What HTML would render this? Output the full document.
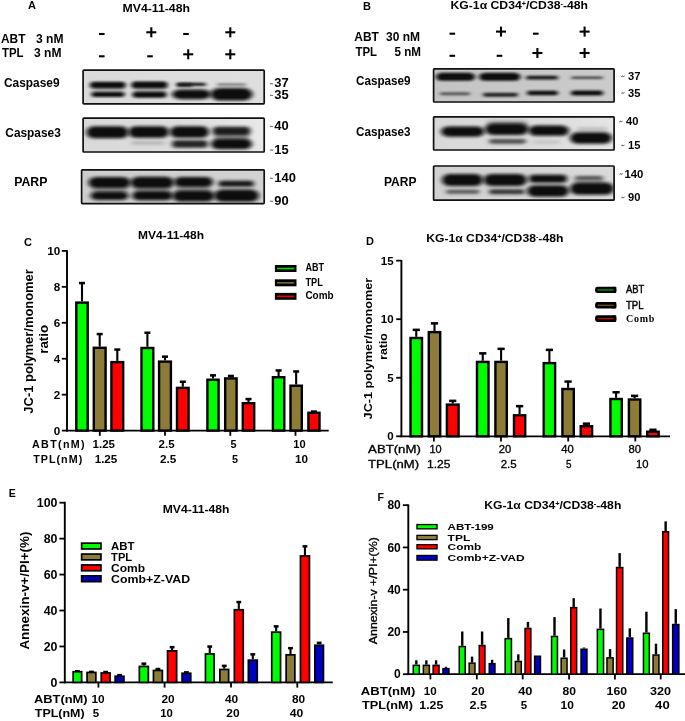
<!DOCTYPE html>
<html lang="en"><head><meta charset="utf-8"><title>Figure</title>
<style>html,body{margin:0;padding:0;background:#fff}svg{display:block}text{font-family:"Liberation Sans",sans-serif;fill:#000}</style>
</head><body>
<svg width="685" height="721" viewBox="0 0 685 721">
<defs>
<filter id="b1" x="-20%" y="-80%" width="140%" height="260%"><feGaussianBlur stdDeviation="1.9 1.0"/></filter>
<filter id="b2" x="-20%" y="-80%" width="140%" height="260%"><feGaussianBlur stdDeviation="2.4 1.4"/></filter>
<linearGradient id="gA0" x1="0" x2="1"><stop offset="0" stop-color="#dadada"/><stop offset="1" stop-color="#dfdfdf"/></linearGradient>
<linearGradient id="gA1" x1="0" x2="1"><stop offset="0" stop-color="#d9d9d9"/><stop offset="0.6" stop-color="#dddddd"/><stop offset="1" stop-color="#e9e9e9"/></linearGradient>
<linearGradient id="gA2" x1="0" x2="1"><stop offset="0" stop-color="#cdcdcd"/><stop offset="1" stop-color="#d2d2d2"/></linearGradient>
<linearGradient id="gB0" x1="0" x2="1"><stop offset="0" stop-color="#c4c4c4"/><stop offset="1" stop-color="#cbcbcb"/></linearGradient>
<linearGradient id="gB1" x1="0" x2="1"><stop offset="0" stop-color="#d8d8d8"/><stop offset="0.6" stop-color="#dcdcdc"/><stop offset="1" stop-color="#e5e5e5"/></linearGradient>
<linearGradient id="gB2" x1="0" x2="1"><stop offset="0" stop-color="#d0d0d0"/><stop offset="1" stop-color="#dadada"/></linearGradient>
</defs>
<rect width="685" height="721" fill="#fff"/>
<text x="28" y="9.3" font-size="11" font-weight="bold" text-anchor="start">A</text>
<text x="122.5" y="12.2" font-size="11.6" font-weight="bold" text-anchor="start" textLength="67.5" lengthAdjust="spacingAndGlyphs">MV4-11-48h</text>
<text x="1" y="43" font-size="12.6" font-weight="bold" text-anchor="start" textLength="24.5" lengthAdjust="spacingAndGlyphs">ABT</text>
<text x="36" y="43" font-size="12.6" font-weight="bold" text-anchor="start" textLength="27.5" lengthAdjust="spacingAndGlyphs">3 nM</text>
<text x="2" y="57" font-size="12.6" font-weight="bold" text-anchor="start" textLength="21.5" lengthAdjust="spacingAndGlyphs">TPL</text>
<text x="34" y="57" font-size="12.6" font-weight="bold" text-anchor="start" textLength="27.5" lengthAdjust="spacingAndGlyphs">3 nM</text>
<line x1="99.0" y1="34" x2="104.6" y2="34" stroke="#000" stroke-width="2.1"/>
<line x1="146.3" y1="32.3" x2="156.3" y2="32.3" stroke="#000" stroke-width="2.1"/>
<line x1="151.3" y1="27.299999999999997" x2="151.3" y2="37.3" stroke="#000" stroke-width="2.1"/>
<line x1="183.2" y1="34" x2="188.8" y2="34" stroke="#000" stroke-width="2.1"/>
<line x1="225.3" y1="32.3" x2="235.3" y2="32.3" stroke="#000" stroke-width="2.1"/>
<line x1="230.3" y1="27.299999999999997" x2="230.3" y2="37.3" stroke="#000" stroke-width="2.1"/>
<line x1="99.0" y1="56.3" x2="104.6" y2="56.3" stroke="#000" stroke-width="2.1"/>
<line x1="147.2" y1="56.3" x2="152.8" y2="56.3" stroke="#000" stroke-width="2.1"/>
<line x1="183.2" y1="54.3" x2="193.2" y2="54.3" stroke="#000" stroke-width="2.1"/>
<line x1="188.2" y1="49.3" x2="188.2" y2="59.3" stroke="#000" stroke-width="2.1"/>
<line x1="225.3" y1="54.3" x2="235.3" y2="54.3" stroke="#000" stroke-width="2.1"/>
<line x1="230.3" y1="49.3" x2="230.3" y2="59.3" stroke="#000" stroke-width="2.1"/>
<text x="4" y="87.2" font-size="12.4" font-weight="bold" text-anchor="start" textLength="55.5" lengthAdjust="spacingAndGlyphs">Caspase9</text>
<text x="5.3" y="136.7" font-size="12.4" font-weight="bold" text-anchor="start" textLength="55.5" lengthAdjust="spacingAndGlyphs">Caspase3</text>
<text x="14.2" y="185.9" font-size="12.4" font-weight="bold" text-anchor="start" textLength="33.2" lengthAdjust="spacingAndGlyphs">PARP</text>
<clipPath id="cA0"><rect x="82.5" y="69.5" width="182.3" height="35.0"/></clipPath>
<g clip-path="url(#cA0)">
<rect x="82.5" y="69.5" width="182.3" height="35.0" fill="url(#gA0)"/>
<rect x="92.0" y="85.0" width="32.0" height="9.0" rx="4.5" fill="#777" opacity="0.45" filter="url(#b2)"/>
<rect x="134.0" y="85.0" width="32.0" height="9.0" rx="4.5" fill="#777" opacity="0.45" filter="url(#b2)"/>
<rect x="90.0" y="81.7" width="35.5" height="6.6" rx="3.3" fill="#0a0a0a" opacity="1" filter="url(#b1)"/>
<rect x="91.5" y="92.1" width="33.0" height="5.0" rx="2.5" fill="#0a0a0a" opacity="1" filter="url(#b1)"/>
<rect x="131.5" y="81.5" width="36.0" height="6.8" rx="3.4" fill="#0a0a0a" opacity="1" filter="url(#b1)"/>
<rect x="132.5" y="91.7" width="34.0" height="6.0" rx="3.0" fill="#0a0a0a" opacity="1" filter="url(#b1)"/>
<rect x="177.0" y="82.8" width="29.0" height="3.2" rx="1.6" fill="#1a1a1a" opacity="1" filter="url(#b1)"/>
<rect x="177.0" y="83.2" width="15.0" height="3.6" rx="1.8" fill="#1a1a1a" opacity="1" filter="url(#b1)"/>
<rect x="172.0" y="89.6" width="39.0" height="9.6" rx="8.8" ry="4.8" fill="#0a0a0a" opacity="1" filter="url(#b2)"/>
<rect x="217.0" y="83.5" width="29.0" height="1.9" rx="0.9" fill="#666" opacity="1" filter="url(#b1)"/>
<rect x="210.5" y="87.9" width="42.0" height="12.6" rx="9.5" ry="6.3" fill="#0a0a0a" opacity="1" filter="url(#b2)"/>
</g>
<rect x="83.1" y="70.1" width="181.10000000000002" height="33.8" rx="0.8" fill="none" stroke="#111" stroke-width="1.7"/>
<clipPath id="cA1"><rect x="82.5" y="117.6" width="182.3" height="35.0"/></clipPath>
<g clip-path="url(#cA1)">
<rect x="82.5" y="117.6" width="182.3" height="35.0" fill="url(#gA1)"/>
<rect x="86.5" y="126.3" width="42.0" height="12.0" rx="7.1" ry="6.0" fill="#0a0a0a" opacity="1" filter="url(#b2)"/>
<rect x="128.5" y="126.2" width="40.5" height="11.5" rx="6.8" ry="5.8" fill="#0a0a0a" opacity="1" filter="url(#b2)"/>
<rect x="131.0" y="141.2" width="34.0" height="3.5" rx="1.8" fill="#999" opacity="0.6" filter="url(#b2)"/>
<rect x="170.0" y="126.2" width="39.0" height="11.5" rx="6.6" ry="5.8" fill="#0a0a0a" opacity="1" filter="url(#b2)"/>
<rect x="172.0" y="140.3" width="36.0" height="7.4" rx="3.7" fill="#1e1e1e" opacity="0.96" filter="url(#b2)"/>
<rect x="214.0" y="132.0" width="35.0" height="10.0" rx="5.0" fill="#666" opacity="0.6" filter="url(#b2)"/>
<rect x="212.5" y="126.8" width="38.0" height="8.4" rx="4.2" fill="#161616" opacity="0.97" filter="url(#b2)"/>
<rect x="211.0" y="138.7" width="41.0" height="10.6" rx="7.4" ry="5.3" fill="#0a0a0a" opacity="1" filter="url(#b2)"/>
</g>
<rect x="83.1" y="118.19999999999999" width="181.10000000000002" height="33.8" rx="0.8" fill="none" stroke="#111" stroke-width="1.7"/>
<clipPath id="cA2"><rect x="81" y="169.2" width="183.8" height="35.0"/></clipPath>
<g clip-path="url(#cA2)">
<rect x="81" y="169.2" width="183.8" height="35.0" fill="url(#gA2)"/>
<rect x="92.0" y="184.5" width="36.0" height="9.0" rx="4.5" fill="#555" opacity="0.4" filter="url(#b2)"/>
<rect x="134.0" y="184.5" width="37.0" height="9.0" rx="4.5" fill="#555" opacity="0.4" filter="url(#b2)"/>
<rect x="176.0" y="184.5" width="35.0" height="9.0" rx="4.5" fill="#555" opacity="0.4" filter="url(#b2)"/>
<rect x="88.5" y="176.9" width="42.0" height="11.2" rx="7.6" ry="5.6" fill="#0a0a0a" opacity="1" filter="url(#b2)"/>
<rect x="90.5" y="191.4" width="38.0" height="8.6" rx="6.8" ry="4.3" fill="#0a0a0a" opacity="1" filter="url(#b2)"/>
<rect x="130.5" y="176.8" width="43.5" height="11.4" rx="7.8" ry="5.7" fill="#0a0a0a" opacity="1" filter="url(#b2)"/>
<rect x="132.0" y="191.1" width="41.0" height="9.2" rx="7.4" ry="4.6" fill="#0a0a0a" opacity="1" filter="url(#b2)"/>
<rect x="174.0" y="176.9" width="39.0" height="10.2" rx="7.0" ry="5.1" fill="#0a0a0a" opacity="1" filter="url(#b2)"/>
<rect x="172.5" y="190.4" width="42.0" height="11.2" rx="7.6" ry="5.6" fill="#0a0a0a" opacity="1" filter="url(#b2)"/>
<rect x="218.5" y="180.8" width="35.5" height="6.0" rx="3.0" fill="#151515" opacity="1" filter="url(#b2)"/>
<rect x="214.0" y="189.6" width="45.0" height="12.2" rx="8.1" ry="6.1" fill="#0a0a0a" opacity="1" filter="url(#b2)"/>
</g>
<rect x="81.6" y="169.79999999999998" width="182.60000000000002" height="33.8" rx="0.8" fill="none" stroke="#111" stroke-width="1.7"/>
<path d="M269.90000000000003,84.2 q0.8,-1 1.6,-0.4 t1.6,-0.4" fill="none" stroke="#333" stroke-width="0.9"/>
<text x="274.3" y="87.4" font-size="12" font-weight="bold" text-anchor="start" textLength="14.4" lengthAdjust="spacingAndGlyphs">37</text>
<path d="M269.90000000000003,95.8 q0.8,-1 1.6,-0.4 t1.6,-0.4" fill="none" stroke="#333" stroke-width="0.9"/>
<text x="274.3" y="99" font-size="12" font-weight="bold" text-anchor="start" textLength="14.4" lengthAdjust="spacingAndGlyphs">35</text>
<path d="M269.90000000000003,126.8 q0.8,-1 1.6,-0.4 t1.6,-0.4" fill="none" stroke="#333" stroke-width="0.9"/>
<text x="274.3" y="130" font-size="12" font-weight="bold" text-anchor="start" textLength="14.4" lengthAdjust="spacingAndGlyphs">40</text>
<path d="M269.90000000000003,150.5 q0.8,-1 1.6,-0.4 t1.6,-0.4" fill="none" stroke="#333" stroke-width="0.9"/>
<text x="274.3" y="153.7" font-size="12" font-weight="bold" text-anchor="start" textLength="14.4" lengthAdjust="spacingAndGlyphs">15</text>
<path d="M269.90000000000003,178.70000000000002 q0.8,-1 1.6,-0.4 t1.6,-0.4" fill="none" stroke="#333" stroke-width="0.9"/>
<text x="274.3" y="181.9" font-size="12" font-weight="bold" text-anchor="start" textLength="21.6" lengthAdjust="spacingAndGlyphs">140</text>
<path d="M269.90000000000003,201.70000000000002 q0.8,-1 1.6,-0.4 t1.6,-0.4" fill="none" stroke="#333" stroke-width="0.9"/>
<text x="274.3" y="204.9" font-size="12" font-weight="bold" text-anchor="start" textLength="14.4" lengthAdjust="spacingAndGlyphs">90</text>
<text x="363" y="10.2" font-size="11" font-weight="bold" text-anchor="start">B</text>
<text x="450.5" y="9.1" font-size="11" font-weight="bold" textLength="137.5" lengthAdjust="spacingAndGlyphs">KG-1α CD34<tspan font-size="6.5" dy="-3.5">+</tspan><tspan dy="3.5">/CD38</tspan><tspan font-size="6.5" dy="-3.5">-</tspan><tspan dy="3.5">-48h</tspan></text>
<text x="354.3" y="41.1" font-size="12.4" font-weight="bold" text-anchor="start" textLength="24.5" lengthAdjust="spacingAndGlyphs">ABT</text>
<text x="386" y="41.1" font-size="12.4" font-weight="bold" text-anchor="start" textLength="34" lengthAdjust="spacingAndGlyphs">30 nM</text>
<text x="355.5" y="55.9" font-size="12.4" font-weight="bold" text-anchor="start" textLength="21.5" lengthAdjust="spacingAndGlyphs">TPL</text>
<text x="394.5" y="55.9" font-size="12.4" font-weight="bold" text-anchor="start" textLength="26.5" lengthAdjust="spacingAndGlyphs">5 nM</text>
<line x1="449.5" y1="33.7" x2="455.1" y2="33.7" stroke="#000" stroke-width="2.1"/>
<line x1="496" y1="31.6" x2="506" y2="31.6" stroke="#000" stroke-width="2.1"/>
<line x1="501" y1="26.6" x2="501" y2="36.6" stroke="#000" stroke-width="2.1"/>
<line x1="533.0" y1="33.7" x2="538.5999999999999" y2="33.7" stroke="#000" stroke-width="2.1"/>
<line x1="579.6" y1="31.6" x2="589.6" y2="31.6" stroke="#000" stroke-width="2.1"/>
<line x1="584.6" y1="26.6" x2="584.6" y2="36.6" stroke="#000" stroke-width="2.1"/>
<line x1="449.5" y1="55.8" x2="455.1" y2="55.8" stroke="#000" stroke-width="2.1"/>
<line x1="496.7" y1="55.8" x2="502.3" y2="55.8" stroke="#000" stroke-width="2.1"/>
<line x1="532.4" y1="53" x2="542.4" y2="53" stroke="#000" stroke-width="2.1"/>
<line x1="537.4" y1="48" x2="537.4" y2="58" stroke="#000" stroke-width="2.1"/>
<line x1="579.6" y1="53" x2="589.6" y2="53" stroke="#000" stroke-width="2.1"/>
<line x1="584.6" y1="48" x2="584.6" y2="58" stroke="#000" stroke-width="2.1"/>
<text x="356" y="85.1" font-size="12.4" font-weight="bold" text-anchor="start" textLength="54.5" lengthAdjust="spacingAndGlyphs">Caspase9</text>
<text x="356" y="136.2" font-size="12.4" font-weight="bold" text-anchor="start" textLength="54.5" lengthAdjust="spacingAndGlyphs">Caspase3</text>
<text x="384" y="186.2" font-size="12.4" font-weight="bold" text-anchor="start" textLength="32.5" lengthAdjust="spacingAndGlyphs">PARP</text>
<clipPath id="cB0"><rect x="433" y="68.2" width="181.70000000000005" height="34.39999999999999"/></clipPath>
<g clip-path="url(#cB0)">
<rect x="433" y="68.2" width="181.70000000000005" height="34.39999999999999" fill="url(#gB0)"/>
<rect x="436.0" y="72.8" width="39.0" height="8.0" rx="6.1" ry="4.0" fill="#0a0a0a" opacity="1" filter="url(#b1)"/>
<rect x="440.0" y="92.3" width="30.0" height="3.0" rx="1.5" fill="#444" opacity="0.9" filter="url(#b1)"/>
<rect x="479.0" y="72.8" width="41.5" height="8.0" rx="6.5" ry="4.0" fill="#0a0a0a" opacity="1" filter="url(#b1)"/>
<rect x="483.0" y="92.8" width="35.0" height="4.0" rx="2.0" fill="#222" opacity="1" filter="url(#b1)"/>
<rect x="526.0" y="75.8" width="32.0" height="3.8" rx="1.9" fill="#151515" opacity="1" filter="url(#b1)"/>
<rect x="527.0" y="90.7" width="31.0" height="4.6" rx="2.3" fill="#111" opacity="1" filter="url(#b1)"/>
<rect x="571.0" y="76.4" width="32.0" height="2.6" rx="1.3" fill="#444" opacity="1" filter="url(#b1)"/>
<rect x="571.0" y="90.5" width="32.0" height="5.0" rx="2.5" fill="#111" opacity="1" filter="url(#b1)"/>
</g>
<rect x="433.6" y="68.8" width="180.50000000000006" height="33.19999999999999" rx="0.8" fill="none" stroke="#111" stroke-width="1.7"/>
<clipPath id="cB1"><rect x="433" y="116.2" width="181.70000000000005" height="34.39999999999999"/></clipPath>
<g clip-path="url(#cB1)">
<rect x="433" y="116.2" width="181.70000000000005" height="34.39999999999999" fill="url(#gB1)"/>
<rect x="441.0" y="126.5" width="43.5" height="10.2" rx="7.8" ry="5.1" fill="#0a0a0a" opacity="1" filter="url(#b2)"/>
<rect x="487.0" y="120.5" width="40.5" height="7.0" rx="3.5" fill="#777" opacity="0.55" filter="url(#b2)"/>
<rect x="485.0" y="123.5" width="43.5" height="11.4" rx="7.8" ry="5.7" fill="#0a0a0a" opacity="1" filter="url(#b2)"/>
<rect x="489.0" y="138.9" width="37.0" height="4.8" rx="2.4" fill="#3a3a3a" opacity="0.9" filter="url(#b2)"/>
<rect x="528.5" y="125.4" width="40.5" height="10.4" rx="7.3" ry="5.2" fill="#0a0a0a" opacity="1" filter="url(#b2)"/>
<rect x="533.0" y="140.5" width="27.0" height="3.0" rx="1.5" fill="#aaa" opacity="0.6" filter="url(#b2)"/>
<rect x="577.0" y="127.2" width="30.0" height="3.5" rx="1.8" fill="#aaa" opacity="0.7" filter="url(#b2)"/>
<rect x="570.0" y="132.3" width="42.0" height="11.4" rx="7.6" ry="5.7" fill="#0a0a0a" opacity="1" filter="url(#b2)"/>
</g>
<rect x="433.6" y="116.8" width="180.50000000000006" height="33.19999999999999" rx="0.8" fill="none" stroke="#111" stroke-width="1.7"/>
<clipPath id="cB2"><rect x="433" y="165.4" width="181.70000000000005" height="35.400000000000006"/></clipPath>
<g clip-path="url(#cB2)">
<rect x="433" y="165.4" width="181.70000000000005" height="35.400000000000006" fill="url(#gB2)"/>
<rect x="442.0" y="173.9" width="41.0" height="12.2" rx="7.4" ry="6.1" fill="#0a0a0a" opacity="1" filter="url(#b2)"/>
<rect x="446.0" y="189.8" width="33.5" height="4.0" rx="2.0" fill="#444" opacity="0.9" filter="url(#b2)"/>
<rect x="483.5" y="173.9" width="43.5" height="12.2" rx="7.8" ry="6.1" fill="#0a0a0a" opacity="1" filter="url(#b2)"/>
<rect x="489.0" y="189.3" width="35.5" height="5.0" rx="2.5" fill="#2a2a2a" opacity="0.95" filter="url(#b2)"/>
<rect x="529.0" y="174.8" width="38.0" height="8.0" rx="4.0" fill="#0c0c0c" opacity="1" filter="url(#b2)"/>
<rect x="527.0" y="185.3" width="42.0" height="11.4" rx="7.6" ry="5.7" fill="#0a0a0a" opacity="1" filter="url(#b2)"/>
<rect x="574.0" y="177.5" width="30.0" height="7.0" rx="3.5" fill="#888" opacity="0.5" filter="url(#b2)"/>
<rect x="575.0" y="176.0" width="28.0" height="4.0" rx="2.0" fill="#444" opacity="0.9" filter="url(#b2)"/>
<rect x="570.0" y="182.5" width="44.0" height="12.2" rx="7.9" ry="6.1" fill="#0a0a0a" opacity="1" filter="url(#b2)"/>
</g>
<rect x="433.6" y="166.0" width="180.50000000000006" height="34.2" rx="0.8" fill="none" stroke="#111" stroke-width="1.7"/>
<path d="M621.3,76.7 q0.8,-1 1.6,-0.4 t1.6,-0.4" fill="none" stroke="#333" stroke-width="0.9"/>
<text x="628" y="79.9" font-size="11" font-weight="bold" text-anchor="start" textLength="12.4" lengthAdjust="spacingAndGlyphs">37</text>
<path d="M621.3,93.39999999999999 q0.8,-1 1.6,-0.4 t1.6,-0.4" fill="none" stroke="#333" stroke-width="0.9"/>
<text x="628" y="96.6" font-size="11" font-weight="bold" text-anchor="start" textLength="12.4" lengthAdjust="spacingAndGlyphs">35</text>
<path d="M619.3,121.89999999999999 q0.8,-1 1.6,-0.4 t1.6,-0.4" fill="none" stroke="#333" stroke-width="0.9"/>
<text x="626" y="125.1" font-size="11" font-weight="bold" text-anchor="start" textLength="12.4" lengthAdjust="spacingAndGlyphs">40</text>
<path d="M621.3,145.9 q0.8,-1 1.6,-0.4 t1.6,-0.4" fill="none" stroke="#333" stroke-width="0.9"/>
<text x="628" y="149.1" font-size="11" font-weight="bold" text-anchor="start" textLength="12.4" lengthAdjust="spacingAndGlyphs">15</text>
<path d="M619.5,174.4 q0.8,-1 1.6,-0.4 t1.6,-0.4" fill="none" stroke="#333" stroke-width="0.9"/>
<text x="624.5" y="177.6" font-size="11" font-weight="bold" text-anchor="start" textLength="18.9" lengthAdjust="spacingAndGlyphs">140</text>
<path d="M621.3,197.9 q0.8,-1 1.6,-0.4 t1.6,-0.4" fill="none" stroke="#333" stroke-width="0.9"/>
<text x="628" y="201.1" font-size="11" font-weight="bold" text-anchor="start" textLength="12.4" lengthAdjust="spacingAndGlyphs">90</text>
<text x="24" y="245.6" font-size="11" font-weight="bold" text-anchor="start">C</text>
<text x="138" y="238.6" font-size="10.8" font-weight="bold" text-anchor="start" textLength="66" lengthAdjust="spacingAndGlyphs">MV4-11-48h</text>
<line x1="67" y1="250.2" x2="67" y2="431.5" stroke="#000" stroke-width="1.9"/>
<line x1="66.05" y1="430.6" x2="328.7" y2="430.6" stroke="#000" stroke-width="1.8"/>
<line x1="61.8" y1="430.6" x2="67" y2="430.6" stroke="#000" stroke-width="1.8"/>
<text x="60.3" y="434.5" font-size="10.8" font-weight="bold" text-anchor="end" textLength="6.5" lengthAdjust="spacingAndGlyphs">0</text>
<line x1="61.8" y1="394.66" x2="67" y2="394.66" stroke="#000" stroke-width="1.8"/>
<text x="60.3" y="398.56" font-size="10.8" font-weight="bold" text-anchor="end" textLength="6.5" lengthAdjust="spacingAndGlyphs">2</text>
<line x1="61.8" y1="358.72" x2="67" y2="358.72" stroke="#000" stroke-width="1.8"/>
<text x="60.3" y="362.62" font-size="10.8" font-weight="bold" text-anchor="end" textLength="6.5" lengthAdjust="spacingAndGlyphs">4</text>
<line x1="61.8" y1="322.78000000000003" x2="67" y2="322.78000000000003" stroke="#000" stroke-width="1.8"/>
<text x="60.3" y="326.68" font-size="10.8" font-weight="bold" text-anchor="end" textLength="6.5" lengthAdjust="spacingAndGlyphs">6</text>
<line x1="61.8" y1="286.84000000000003" x2="67" y2="286.84000000000003" stroke="#000" stroke-width="1.8"/>
<text x="60.3" y="290.74" font-size="10.8" font-weight="bold" text-anchor="end" textLength="6.5" lengthAdjust="spacingAndGlyphs">8</text>
<line x1="61.8" y1="250.90000000000003" x2="67" y2="250.90000000000003" stroke="#000" stroke-width="1.8"/>
<text x="60.3" y="254.80000000000004" font-size="10.8" font-weight="bold" text-anchor="end" textLength="13.0" lengthAdjust="spacingAndGlyphs">10</text>
<line x1="99.8" y1="430.6" x2="99.8" y2="435.8" stroke="#000" stroke-width="1.8"/>
<line x1="165" y1="430.6" x2="165" y2="435.8" stroke="#000" stroke-width="1.8"/>
<line x1="230.3" y1="430.6" x2="230.3" y2="435.8" stroke="#000" stroke-width="1.8"/>
<line x1="295.5" y1="430.6" x2="295.5" y2="435.8" stroke="#000" stroke-width="1.8"/>
<text transform="translate(32.8,341.4) rotate(-90)" font-size="12" font-weight="bold" text-anchor="middle" textLength="144.5" lengthAdjust="spacingAndGlyphs">JC-1 polymer/monomer</text>
<text transform="translate(47.8,339.3) rotate(-90)" font-size="12" font-weight="bold" text-anchor="middle" textLength="29" lengthAdjust="spacingAndGlyphs">ratio</text>
<line x1="82.0" y1="301.4" x2="82.0" y2="282.85" stroke="#000" stroke-width="2.1"/>
<line x1="79.0" y1="283.06" x2="85.0" y2="283.06" stroke="#000" stroke-width="2.52"/>
<rect x="76.30" y="302.60" width="11.40" height="128.00" fill="#00fc00" stroke="#000" stroke-width="2.4"/>
<line x1="99.69999999999999" y1="346.6" x2="99.69999999999999" y2="333.85" stroke="#000" stroke-width="2.1"/>
<line x1="96.69999999999999" y1="334.06" x2="102.69999999999999" y2="334.06" stroke="#000" stroke-width="2.52"/>
<rect x="93.80" y="347.80" width="11.80" height="82.80" fill="#8c7c38" stroke="#000" stroke-width="2.4"/>
<line x1="117.30000000000001" y1="360.9" x2="117.30000000000001" y2="349.35" stroke="#000" stroke-width="2.1"/>
<line x1="114.30000000000001" y1="349.56" x2="120.30000000000001" y2="349.56" stroke="#000" stroke-width="2.52"/>
<rect x="111.40" y="362.10" width="11.80" height="68.50" fill="#ff0000" stroke="#000" stroke-width="2.4"/>
<line x1="147.4" y1="346.8" x2="147.4" y2="332.55" stroke="#000" stroke-width="2.1"/>
<line x1="144.4" y1="332.76" x2="150.4" y2="332.76" stroke="#000" stroke-width="2.52"/>
<rect x="141.50" y="348.00" width="11.80" height="82.60" fill="#00fc00" stroke="#000" stroke-width="2.4"/>
<line x1="165.0" y1="360.4" x2="165.0" y2="356.45" stroke="#000" stroke-width="2.1"/>
<line x1="162.0" y1="356.65999999999997" x2="168.0" y2="356.65999999999997" stroke="#000" stroke-width="2.52"/>
<rect x="159.10" y="361.60" width="11.80" height="69.00" fill="#8c7c38" stroke="#000" stroke-width="2.4"/>
<line x1="182.8" y1="386.7" x2="182.8" y2="381.55" stroke="#000" stroke-width="2.1"/>
<line x1="179.8" y1="381.76" x2="185.8" y2="381.76" stroke="#000" stroke-width="2.52"/>
<rect x="177.00" y="387.90" width="11.60" height="42.70" fill="#ff0000" stroke="#000" stroke-width="2.4"/>
<line x1="213.0" y1="378.5" x2="213.0" y2="375.15000000000003" stroke="#000" stroke-width="2.1"/>
<line x1="210.0" y1="375.36" x2="216.0" y2="375.36" stroke="#000" stroke-width="2.52"/>
<rect x="207.40" y="379.70" width="11.20" height="50.90" fill="#00fc00" stroke="#000" stroke-width="2.4"/>
<line x1="230.9" y1="377.2" x2="230.9" y2="375.75" stroke="#000" stroke-width="2.1"/>
<line x1="227.9" y1="375.96" x2="233.9" y2="375.96" stroke="#000" stroke-width="2.52"/>
<rect x="225.20" y="378.40" width="11.40" height="52.20" fill="#8c7c38" stroke="#000" stroke-width="2.4"/>
<line x1="248.5" y1="402" x2="248.5" y2="398.85" stroke="#000" stroke-width="2.1"/>
<line x1="245.5" y1="399.06" x2="251.5" y2="399.06" stroke="#000" stroke-width="2.52"/>
<rect x="242.80" y="403.20" width="11.40" height="27.40" fill="#ff0000" stroke="#000" stroke-width="2.4"/>
<line x1="278.6" y1="376" x2="278.6" y2="370.25" stroke="#000" stroke-width="2.1"/>
<line x1="275.6" y1="370.46" x2="281.6" y2="370.46" stroke="#000" stroke-width="2.52"/>
<rect x="272.90" y="377.20" width="11.40" height="53.40" fill="#00fc00" stroke="#000" stroke-width="2.4"/>
<line x1="296.15" y1="384.5" x2="296.15" y2="371.25" stroke="#000" stroke-width="2.1"/>
<line x1="293.15" y1="371.46" x2="299.15" y2="371.46" stroke="#000" stroke-width="2.52"/>
<rect x="290.50" y="385.70" width="11.30" height="44.90" fill="#8c7c38" stroke="#000" stroke-width="2.4"/>
<line x1="313.95" y1="411.6" x2="313.95" y2="411.35" stroke="#000" stroke-width="2.1"/>
<line x1="310.95" y1="411.56" x2="316.95" y2="411.56" stroke="#000" stroke-width="2.52"/>
<rect x="308.40" y="412.80" width="11.10" height="17.80" fill="#ff0000" stroke="#000" stroke-width="2.4"/>
<text x="32" y="448.4" font-size="10.7" font-weight="bold" textLength="52.6" lengthAdjust="spacing">ABT(nM)</text>
<text x="33.2" y="462.6" font-size="10.7" font-weight="bold" textLength="49" lengthAdjust="spacing">TPL(nM)</text>
<text x="103.8" y="448.4" font-size="10.8" font-weight="bold" text-anchor="middle" textLength="22.4" lengthAdjust="spacingAndGlyphs">1.25</text>
<text x="166.6" y="448.4" font-size="10.8" font-weight="bold" text-anchor="middle" textLength="16" lengthAdjust="spacingAndGlyphs">2.5</text>
<text x="233.4" y="448.4" font-size="10.8" font-weight="bold" text-anchor="middle">5</text>
<text x="299.5" y="448.4" font-size="10.8" font-weight="bold" text-anchor="middle" textLength="12.4" lengthAdjust="spacingAndGlyphs">10</text>
<text x="106" y="462.6" font-size="10.8" font-weight="bold" text-anchor="middle" textLength="22.7" lengthAdjust="spacingAndGlyphs">1.25</text>
<text x="168.2" y="462.6" font-size="10.8" font-weight="bold" text-anchor="middle" textLength="16.3" lengthAdjust="spacingAndGlyphs">2.5</text>
<text x="234.9" y="462.6" font-size="10.8" font-weight="bold" text-anchor="middle">5</text>
<text x="301.5" y="462.6" font-size="10.8" font-weight="bold" text-anchor="middle" textLength="13" lengthAdjust="spacingAndGlyphs">10</text>
<rect x="274.9" y="265" width="21.600000000000023" height="7" fill="#000"/>
<rect x="277.09999999999997" y="267.7" width="17.200000000000024" height="1.6" fill="#00e000"/>
<text x="305.4" y="271.3" font-size="10.5" font-weight="bold" text-anchor="start" textLength="18.6" lengthAdjust="spacingAndGlyphs">ABT</text>
<rect x="274.9" y="279.3" width="21.600000000000023" height="7.0" fill="#000"/>
<rect x="277.09999999999997" y="282.0" width="17.200000000000024" height="1.6" fill="#7a6a30"/>
<text x="305.4" y="285.6" font-size="10.5" font-weight="bold" text-anchor="start" textLength="17.5" lengthAdjust="spacingAndGlyphs">TPL</text>
<rect x="274.9" y="292.9" width="21.600000000000023" height="6.900000000000034" fill="#000"/>
<rect x="277.09999999999997" y="295.55" width="17.200000000000024" height="1.6" fill="#f00000"/>
<text x="305.4" y="299.2" font-size="10.5" font-weight="bold" text-anchor="start" textLength="28.2" lengthAdjust="spacingAndGlyphs">Comb</text>
<text x="366" y="245.3" font-size="11" font-weight="bold" text-anchor="start">D</text>
<text x="426.2" y="242.4" font-size="10.6" font-weight="bold" textLength="137.2" lengthAdjust="spacingAndGlyphs">KG-1α CD34<tspan font-size="6.3" dy="-3.3">+</tspan><tspan dy="3.3">/CD38</tspan><tspan font-size="6.3" dy="-3.3">-</tspan><tspan dy="3.3">-48h</tspan></text>
<line x1="401.4" y1="260" x2="401.4" y2="437.2" stroke="#000" stroke-width="1.9"/>
<line x1="400.45" y1="436.3" x2="670" y2="436.3" stroke="#000" stroke-width="1.8"/>
<line x1="396.2" y1="436.3" x2="401.4" y2="436.3" stroke="#000" stroke-width="1.8"/>
<text x="393.6" y="440.2" font-size="10.8" font-weight="bold" text-anchor="end" textLength="6.4" lengthAdjust="spacingAndGlyphs">0</text>
<line x1="396.2" y1="377.75" x2="401.4" y2="377.75" stroke="#000" stroke-width="1.8"/>
<text x="393.6" y="381.65" font-size="10.8" font-weight="bold" text-anchor="end" textLength="6.4" lengthAdjust="spacingAndGlyphs">5</text>
<line x1="396.2" y1="319.2" x2="401.4" y2="319.2" stroke="#000" stroke-width="1.8"/>
<text x="393.6" y="323.09999999999997" font-size="10.8" font-weight="bold" text-anchor="end" textLength="12.8" lengthAdjust="spacingAndGlyphs">10</text>
<line x1="396.2" y1="260.65" x2="401.4" y2="260.65" stroke="#000" stroke-width="1.8"/>
<text x="393.6" y="264.54999999999995" font-size="10.8" font-weight="bold" text-anchor="end" textLength="12.8" lengthAdjust="spacingAndGlyphs">15</text>
<line x1="433.9" y1="436.3" x2="433.9" y2="441.5" stroke="#000" stroke-width="1.8"/>
<line x1="501" y1="436.3" x2="501" y2="441.5" stroke="#000" stroke-width="1.8"/>
<line x1="568.2" y1="436.3" x2="568.2" y2="441.5" stroke="#000" stroke-width="1.8"/>
<line x1="635.3" y1="436.3" x2="635.3" y2="441.5" stroke="#000" stroke-width="1.8"/>
<text transform="translate(372.2,348.6) rotate(-90)" font-size="11.8" font-weight="bold" text-anchor="middle" textLength="141.6" lengthAdjust="spacingAndGlyphs">JC-1 polymer/monomer</text>
<text transform="translate(387.4,346.5) rotate(-90)" font-size="11.8" font-weight="bold" text-anchor="middle" textLength="26.6" lengthAdjust="spacingAndGlyphs">ratio</text>
<line x1="416.25" y1="336.8" x2="416.25" y2="329.65000000000003" stroke="#000" stroke-width="2.1"/>
<line x1="412.65" y1="329.86" x2="419.85" y2="329.86" stroke="#000" stroke-width="2.52"/>
<rect x="410.50" y="338.00" width="11.50" height="98.30" fill="#00fc00" stroke="#000" stroke-width="2.4"/>
<line x1="434.5" y1="330.9" x2="434.5" y2="323.15000000000003" stroke="#000" stroke-width="2.1"/>
<line x1="430.9" y1="323.36" x2="438.1" y2="323.36" stroke="#000" stroke-width="2.52"/>
<rect x="428.80" y="332.10" width="11.40" height="104.20" fill="#8c7c38" stroke="#000" stroke-width="2.4"/>
<line x1="452.75" y1="403.4" x2="452.75" y2="400.65000000000003" stroke="#000" stroke-width="2.1"/>
<line x1="449.15" y1="400.86" x2="456.35" y2="400.86" stroke="#000" stroke-width="2.52"/>
<rect x="446.90" y="404.60" width="11.70" height="31.70" fill="#ff0000" stroke="#000" stroke-width="2.4"/>
<line x1="482.75" y1="360.7" x2="482.75" y2="353.15000000000003" stroke="#000" stroke-width="2.1"/>
<line x1="479.15" y1="353.36" x2="486.35" y2="353.36" stroke="#000" stroke-width="2.52"/>
<rect x="477.00" y="361.90" width="11.50" height="74.40" fill="#00fc00" stroke="#000" stroke-width="2.4"/>
<line x1="501.1" y1="360.7" x2="501.1" y2="348.65000000000003" stroke="#000" stroke-width="2.1"/>
<line x1="497.5" y1="348.86" x2="504.70000000000005" y2="348.86" stroke="#000" stroke-width="2.52"/>
<rect x="495.40" y="361.90" width="11.40" height="74.40" fill="#8c7c38" stroke="#000" stroke-width="2.4"/>
<line x1="519.5999999999999" y1="414.1" x2="519.5999999999999" y2="405.95" stroke="#000" stroke-width="2.1"/>
<line x1="515.9999999999999" y1="406.15999999999997" x2="523.1999999999999" y2="406.15999999999997" stroke="#000" stroke-width="2.52"/>
<rect x="514.00" y="415.30" width="11.20" height="21.00" fill="#ff0000" stroke="#000" stroke-width="2.4"/>
<line x1="549.4" y1="361.9" x2="549.4" y2="349.65000000000003" stroke="#000" stroke-width="2.1"/>
<line x1="545.8" y1="349.86" x2="553.0" y2="349.86" stroke="#000" stroke-width="2.52"/>
<rect x="543.70" y="363.10" width="11.40" height="73.20" fill="#00fc00" stroke="#000" stroke-width="2.4"/>
<line x1="568.1" y1="387.8" x2="568.1" y2="381.35" stroke="#000" stroke-width="2.1"/>
<line x1="564.5" y1="381.56" x2="571.7" y2="381.56" stroke="#000" stroke-width="2.52"/>
<rect x="562.40" y="389.00" width="11.40" height="47.30" fill="#8c7c38" stroke="#000" stroke-width="2.4"/>
<line x1="586.4" y1="425" x2="586.4" y2="423.45" stroke="#000" stroke-width="2.1"/>
<line x1="582.8" y1="423.65999999999997" x2="590.0" y2="423.65999999999997" stroke="#000" stroke-width="2.52"/>
<rect x="580.70" y="426.20" width="11.40" height="10.10" fill="#ff0000" stroke="#000" stroke-width="2.4"/>
<line x1="616.1" y1="397.8" x2="616.1" y2="392.05" stroke="#000" stroke-width="2.1"/>
<line x1="612.5" y1="392.26" x2="619.7" y2="392.26" stroke="#000" stroke-width="2.52"/>
<rect x="610.40" y="399.00" width="11.40" height="37.30" fill="#00fc00" stroke="#000" stroke-width="2.4"/>
<line x1="634.6" y1="398.3" x2="634.6" y2="395.65000000000003" stroke="#000" stroke-width="2.1"/>
<line x1="631.0" y1="395.86" x2="638.2" y2="395.86" stroke="#000" stroke-width="2.52"/>
<rect x="628.90" y="399.50" width="11.40" height="36.80" fill="#8c7c38" stroke="#000" stroke-width="2.4"/>
<line x1="652.95" y1="430.5" x2="652.95" y2="429.55" stroke="#000" stroke-width="2.1"/>
<line x1="649.35" y1="429.76" x2="656.5500000000001" y2="429.76" stroke="#000" stroke-width="2.52"/>
<rect x="647.20" y="431.70" width="11.50" height="4.60" fill="#ff0000" stroke="#000" stroke-width="2.4"/>
<text x="368.1" y="453.4" font-size="10.2" font-weight="normal" text-anchor="start" textLength="52.7" lengthAdjust="spacingAndGlyphs" stroke="#000" stroke-width="0.3">ABT(nM)</text>
<text x="368.1" y="467.7" font-size="10.2" font-weight="normal" text-anchor="start" textLength="51" lengthAdjust="spacingAndGlyphs" stroke="#000" stroke-width="0.3">TPL(nM)</text>
<text x="435.6" y="453.4" font-size="10.2" font-weight="normal" text-anchor="middle" textLength="12.2" lengthAdjust="spacingAndGlyphs" stroke="#000" stroke-width="0.3">10</text>
<text x="505" y="453.4" font-size="10.2" font-weight="normal" text-anchor="middle" textLength="12.5" lengthAdjust="spacingAndGlyphs" stroke="#000" stroke-width="0.3">20</text>
<text x="567.4" y="453.4" font-size="10.2" font-weight="normal" text-anchor="middle" textLength="12.5" lengthAdjust="spacingAndGlyphs" stroke="#000" stroke-width="0.3">40</text>
<text x="634.8" y="453.4" font-size="10.2" font-weight="normal" text-anchor="middle" textLength="12.5" lengthAdjust="spacingAndGlyphs" stroke="#000" stroke-width="0.3">80</text>
<text x="438.8" y="467.7" font-size="10.2" font-weight="normal" text-anchor="middle" textLength="23.4" lengthAdjust="spacingAndGlyphs" stroke="#000" stroke-width="0.3">1.25</text>
<text x="508.7" y="467.7" font-size="10.2" font-weight="normal" text-anchor="middle" textLength="16" lengthAdjust="spacingAndGlyphs" stroke="#000" stroke-width="0.3">2.5</text>
<text x="568.7" y="467.7" font-size="10.2" font-weight="normal" text-anchor="middle" textLength="5.5" lengthAdjust="spacingAndGlyphs" stroke="#000" stroke-width="0.3">5</text>
<text x="642.2" y="467.7" font-size="10.2" font-weight="normal" text-anchor="middle" textLength="12.5" lengthAdjust="spacingAndGlyphs" stroke="#000" stroke-width="0.3">10</text>
<rect x="595.1" y="286.8" width="21.199999999999932" height="6.300000000000011" rx="2.4" fill="#000"/>
<rect x="612.3" y="286.8" width="4" height="6.300000000000011" rx="0.8" fill="#000"/>
<rect x="597.6" y="289.35" width="16.199999999999932" height="1.2" fill="#00b000"/>
<text x="626" y="293" font-size="10.6" font-weight="normal" text-anchor="start" textLength="18.3" lengthAdjust="spacingAndGlyphs" stroke="#000" stroke-width="0.45">ABT</text>
<rect x="595.1" y="302" width="21.199999999999932" height="6.600000000000023" rx="2.4" fill="#000"/>
<rect x="612.3" y="302" width="4" height="6.600000000000023" rx="0.8" fill="#000"/>
<rect x="597.6" y="304.7" width="16.199999999999932" height="1.2" fill="#6a5a28"/>
<text x="626" y="308.6" font-size="10.6" font-weight="normal" text-anchor="start" textLength="17.5" lengthAdjust="spacingAndGlyphs" stroke="#000" stroke-width="0.45">TPL</text>
<rect x="595.1" y="315.3" width="21.199999999999932" height="6.599999999999966" rx="2.4" fill="#000"/>
<rect x="612.3" y="315.3" width="4" height="6.599999999999966" rx="0.8" fill="#000"/>
<rect x="597.6" y="318.0" width="16.199999999999932" height="1.2" fill="#d00000"/>
<text x="626" y="321.9" font-size="10" font-weight="bold" style="font-family:'Liberation Serif',serif" textLength="28.3" lengthAdjust="spacing">Comb</text>
<text x="8.8" y="497.2" font-size="10.5" font-weight="bold" text-anchor="start">E</text>
<text x="162.7" y="512.7" font-size="11" font-weight="bold" text-anchor="start" textLength="66.8" lengthAdjust="spacingAndGlyphs">MV4-11-48h</text>
<line x1="64.8" y1="501.8" x2="64.8" y2="683.3" stroke="#000" stroke-width="1.9"/>
<line x1="63.849999999999994" y1="682.4" x2="332.7" y2="682.4" stroke="#000" stroke-width="1.8"/>
<line x1="59.4" y1="682.4" x2="64.8" y2="682.4" stroke="#000" stroke-width="1.8"/>
<text x="57.5" y="686.8" font-size="12.4" font-weight="bold" text-anchor="end">0</text>
<line x1="59.4" y1="646.46" x2="64.8" y2="646.46" stroke="#000" stroke-width="1.8"/>
<text x="57.5" y="650.86" font-size="12.4" font-weight="bold" text-anchor="end">20</text>
<line x1="59.4" y1="610.52" x2="64.8" y2="610.52" stroke="#000" stroke-width="1.8"/>
<text x="57.5" y="614.92" font-size="12.4" font-weight="bold" text-anchor="end">40</text>
<line x1="59.4" y1="574.5799999999999" x2="64.8" y2="574.5799999999999" stroke="#000" stroke-width="1.8"/>
<text x="57.5" y="578.9799999999999" font-size="12.4" font-weight="bold" text-anchor="end">60</text>
<line x1="59.4" y1="538.64" x2="64.8" y2="538.64" stroke="#000" stroke-width="1.8"/>
<text x="57.5" y="543.04" font-size="12.4" font-weight="bold" text-anchor="end">80</text>
<line x1="59.4" y1="502.7" x2="64.8" y2="502.7" stroke="#000" stroke-width="1.8"/>
<text x="57.5" y="507.09999999999997" font-size="12.4" font-weight="bold" text-anchor="end">100</text>
<line x1="98.4" y1="682.4" x2="98.4" y2="687.6" stroke="#000" stroke-width="1.8"/>
<line x1="164.6" y1="682.4" x2="164.6" y2="687.6" stroke="#000" stroke-width="1.8"/>
<line x1="231" y1="682.4" x2="231" y2="687.6" stroke="#000" stroke-width="1.8"/>
<line x1="297.3" y1="682.4" x2="297.3" y2="687.6" stroke="#000" stroke-width="1.8"/>
<text transform="translate(29.2,590.6) rotate(-90)" font-size="12" font-weight="bold" text-anchor="middle" textLength="118" lengthAdjust="spacingAndGlyphs">Annexin-v+/PI+(%)</text>
<line x1="77.4" y1="670.9" x2="77.4" y2="671.05" stroke="#000" stroke-width="2.1"/>
<line x1="75.0" y1="671.26" x2="79.80000000000001" y2="671.26" stroke="#000" stroke-width="2.52"/>
<rect x="73.15" y="671.75" width="8.50" height="10.65" fill="#00fc00" stroke="#000" stroke-width="1.7"/>
<line x1="91.45" y1="671.6" x2="91.45" y2="671.65" stroke="#000" stroke-width="2.1"/>
<line x1="89.05" y1="671.86" x2="93.85000000000001" y2="671.86" stroke="#000" stroke-width="2.52"/>
<rect x="87.05" y="672.45" width="8.80" height="9.95" fill="#8c7c38" stroke="#000" stroke-width="1.7"/>
<line x1="105.65" y1="672.1" x2="105.65" y2="671.8499999999999" stroke="#000" stroke-width="2.1"/>
<line x1="103.25" y1="672.06" x2="108.05000000000001" y2="672.06" stroke="#000" stroke-width="2.52"/>
<rect x="101.25" y="672.95" width="8.80" height="9.45" fill="#ff0000" stroke="#000" stroke-width="1.7"/>
<line x1="119.55" y1="675.4" x2="119.55" y2="674.9499999999999" stroke="#000" stroke-width="2.1"/>
<line x1="117.14999999999999" y1="675.16" x2="121.95" y2="675.16" stroke="#000" stroke-width="2.52"/>
<rect x="115.15" y="676.25" width="8.80" height="6.15" fill="#0000c0" stroke="#000" stroke-width="1.7"/>
<line x1="143.85" y1="665.6" x2="143.85" y2="663.4499999999999" stroke="#000" stroke-width="2.1"/>
<line x1="141.45" y1="663.66" x2="146.25" y2="663.66" stroke="#000" stroke-width="2.52"/>
<rect x="139.35" y="666.45" width="9.00" height="15.95" fill="#00fc00" stroke="#000" stroke-width="1.7"/>
<line x1="157.89999999999998" y1="669.6" x2="157.89999999999998" y2="668.8499999999999" stroke="#000" stroke-width="2.1"/>
<line x1="155.49999999999997" y1="669.06" x2="160.29999999999998" y2="669.06" stroke="#000" stroke-width="2.52"/>
<rect x="153.45" y="670.45" width="8.90" height="11.95" fill="#8c7c38" stroke="#000" stroke-width="1.7"/>
<line x1="172.1" y1="650" x2="172.1" y2="646.9499999999999" stroke="#000" stroke-width="2.1"/>
<line x1="169.7" y1="647.16" x2="174.5" y2="647.16" stroke="#000" stroke-width="2.52"/>
<rect x="167.55" y="650.85" width="9.10" height="31.55" fill="#ff0000" stroke="#000" stroke-width="1.7"/>
<line x1="186.39999999999998" y1="672.4" x2="186.39999999999998" y2="672.15" stroke="#000" stroke-width="2.1"/>
<line x1="183.99999999999997" y1="672.36" x2="188.79999999999998" y2="672.36" stroke="#000" stroke-width="2.52"/>
<rect x="182.05" y="673.25" width="8.70" height="9.15" fill="#0000c0" stroke="#000" stroke-width="1.7"/>
<line x1="209.75" y1="653.1" x2="209.75" y2="646.3499999999999" stroke="#000" stroke-width="2.1"/>
<line x1="207.35" y1="646.56" x2="212.15" y2="646.56" stroke="#000" stroke-width="2.52"/>
<rect x="205.45" y="653.95" width="8.60" height="28.45" fill="#00fc00" stroke="#000" stroke-width="1.7"/>
<line x1="224.25" y1="668.6" x2="224.25" y2="665.65" stroke="#000" stroke-width="2.1"/>
<line x1="221.85" y1="665.86" x2="226.65" y2="665.86" stroke="#000" stroke-width="2.52"/>
<rect x="219.85" y="669.45" width="8.80" height="12.95" fill="#8c7c38" stroke="#000" stroke-width="1.7"/>
<line x1="238.8" y1="608.9" x2="238.8" y2="601.8499999999999" stroke="#000" stroke-width="2.1"/>
<line x1="236.4" y1="602.06" x2="241.20000000000002" y2="602.06" stroke="#000" stroke-width="2.52"/>
<rect x="234.35" y="609.75" width="8.90" height="72.65" fill="#ff0000" stroke="#000" stroke-width="1.7"/>
<line x1="252.8" y1="659.3" x2="252.8" y2="654.15" stroke="#000" stroke-width="2.1"/>
<line x1="250.4" y1="654.36" x2="255.20000000000002" y2="654.36" stroke="#000" stroke-width="2.52"/>
<rect x="248.35" y="660.15" width="8.90" height="22.25" fill="#0000c0" stroke="#000" stroke-width="1.7"/>
<line x1="276.15" y1="631.3" x2="276.15" y2="626.15" stroke="#000" stroke-width="2.1"/>
<line x1="273.75" y1="626.36" x2="278.54999999999995" y2="626.36" stroke="#000" stroke-width="2.52"/>
<rect x="271.75" y="632.15" width="8.80" height="50.25" fill="#00fc00" stroke="#000" stroke-width="1.7"/>
<line x1="290.5" y1="654" x2="290.5" y2="647.9499999999999" stroke="#000" stroke-width="2.1"/>
<line x1="288.1" y1="648.16" x2="292.9" y2="648.16" stroke="#000" stroke-width="2.52"/>
<rect x="286.15" y="654.85" width="8.70" height="27.55" fill="#8c7c38" stroke="#000" stroke-width="1.7"/>
<line x1="304.95000000000005" y1="555.1" x2="304.95000000000005" y2="546.15" stroke="#000" stroke-width="2.1"/>
<line x1="302.55000000000007" y1="546.36" x2="307.35" y2="546.36" stroke="#000" stroke-width="2.52"/>
<rect x="300.45" y="555.95" width="9.00" height="126.45" fill="#ff0000" stroke="#000" stroke-width="1.7"/>
<line x1="319.15" y1="644.4" x2="319.15" y2="642.65" stroke="#000" stroke-width="2.1"/>
<line x1="316.75" y1="642.86" x2="321.54999999999995" y2="642.86" stroke="#000" stroke-width="2.52"/>
<rect x="314.85" y="645.25" width="8.60" height="37.15" fill="#0000c0" stroke="#000" stroke-width="1.7"/>
<text x="33.9" y="702.8" font-size="11.5" font-weight="bold" text-anchor="start" textLength="53.7" lengthAdjust="spacingAndGlyphs">ABT(nM)</text>
<text x="34.8" y="717.3" font-size="11.5" font-weight="bold" text-anchor="start" textLength="49.8" lengthAdjust="spacingAndGlyphs">TPL(nM)</text>
<text x="98" y="702.8" font-size="11.5" font-weight="bold" text-anchor="middle" textLength="13.2" lengthAdjust="spacingAndGlyphs">10</text>
<text x="168" y="702.8" font-size="11.5" font-weight="bold" text-anchor="middle" textLength="13.2" lengthAdjust="spacingAndGlyphs">20</text>
<text x="231.6" y="702.8" font-size="11.5" font-weight="bold" text-anchor="middle" textLength="13.2" lengthAdjust="spacingAndGlyphs">40</text>
<text x="298.5" y="702.8" font-size="11.5" font-weight="bold" text-anchor="middle" textLength="13.2" lengthAdjust="spacingAndGlyphs">80</text>
<text x="96" y="717.3" font-size="11.5" font-weight="bold" text-anchor="middle">5</text>
<text x="166.5" y="717.3" font-size="11.5" font-weight="bold" text-anchor="middle" textLength="12.6" lengthAdjust="spacingAndGlyphs">10</text>
<text x="232.9" y="717.3" font-size="11.5" font-weight="bold" text-anchor="middle" textLength="13.3" lengthAdjust="spacingAndGlyphs">20</text>
<text x="296.6" y="717.3" font-size="11.5" font-weight="bold" text-anchor="middle" textLength="13.5" lengthAdjust="spacingAndGlyphs">40</text>
<rect x="81.64999999999999" y="543.15" width="19.3" height="5.8" fill="#00fc00" stroke="#000" stroke-width="1.7"/>
<text x="111.1" y="550.3" font-size="11.5" font-weight="bold" text-anchor="start" textLength="23.5" lengthAdjust="spacingAndGlyphs">ABT</text>
<rect x="81.64999999999999" y="554.05" width="19.3" height="5.8" fill="#8c7c38" stroke="#000" stroke-width="1.7"/>
<text x="111.1" y="561.1999999999999" font-size="11.5" font-weight="bold" text-anchor="start" textLength="21" lengthAdjust="spacingAndGlyphs">TPL</text>
<rect x="81.64999999999999" y="564.9499999999999" width="19.3" height="5.8" fill="#ff0000" stroke="#000" stroke-width="1.7"/>
<text x="111.1" y="572.0999999999999" font-size="11.5" font-weight="bold" text-anchor="start" textLength="34" lengthAdjust="spacingAndGlyphs">Comb</text>
<rect x="81.64999999999999" y="575.85" width="19.3" height="5.8" fill="#0000c0" stroke="#000" stroke-width="1.7"/>
<text x="111.1" y="583.0" font-size="11.5" font-weight="bold" text-anchor="start" textLength="79" lengthAdjust="spacingAndGlyphs">Comb+Z-VAD</text>
<text x="377.6" y="500.6" font-size="10.5" font-weight="bold" text-anchor="start">F</text>
<text x="484.3" y="509" font-size="10.5" font-weight="bold" textLength="137" lengthAdjust="spacingAndGlyphs">KG-1α CD34<tspan font-size="6.3" dy="-3.3">+</tspan><tspan dy="3.3">/CD38</tspan><tspan font-size="6.3" dy="-3.3">-</tspan><tspan dy="3.3">-48h</tspan></text>
<line x1="408.3" y1="504.4" x2="408.3" y2="675.1" stroke="#000" stroke-width="1.9"/>
<line x1="407.35" y1="674.2" x2="685" y2="674.2" stroke="#000" stroke-width="1.8"/>
<line x1="402.90000000000003" y1="674.2" x2="408.3" y2="674.2" stroke="#000" stroke-width="1.8"/>
<text x="400.8" y="678.3000000000001" font-size="12" font-weight="bold" text-anchor="end">0</text>
<line x1="402.90000000000003" y1="631.94" x2="408.3" y2="631.94" stroke="#000" stroke-width="1.8"/>
<text x="400.8" y="636.0400000000001" font-size="12" font-weight="bold" text-anchor="end">20</text>
<line x1="402.90000000000003" y1="589.6800000000001" x2="408.3" y2="589.6800000000001" stroke="#000" stroke-width="1.8"/>
<text x="400.8" y="593.7800000000001" font-size="12" font-weight="bold" text-anchor="end">40</text>
<line x1="402.90000000000003" y1="547.4200000000001" x2="408.3" y2="547.4200000000001" stroke="#000" stroke-width="1.8"/>
<text x="400.8" y="551.5200000000001" font-size="12" font-weight="bold" text-anchor="end">60</text>
<line x1="402.90000000000003" y1="505.1600000000001" x2="408.3" y2="505.1600000000001" stroke="#000" stroke-width="1.8"/>
<text x="400.8" y="509.2600000000001" font-size="12" font-weight="bold" text-anchor="end">80</text>
<line x1="430.4" y1="674.2" x2="430.4" y2="679.4000000000001" stroke="#000" stroke-width="1.8"/>
<line x1="476.8" y1="674.2" x2="476.8" y2="679.4000000000001" stroke="#000" stroke-width="1.8"/>
<line x1="522.7" y1="674.2" x2="522.7" y2="679.4000000000001" stroke="#000" stroke-width="1.8"/>
<line x1="569.1" y1="674.2" x2="569.1" y2="679.4000000000001" stroke="#000" stroke-width="1.8"/>
<line x1="614.9" y1="674.2" x2="614.9" y2="679.4000000000001" stroke="#000" stroke-width="1.8"/>
<line x1="660.7" y1="674.2" x2="660.7" y2="679.4000000000001" stroke="#000" stroke-width="1.8"/>
<text transform="translate(377.2,590.7) rotate(-90)" font-size="10.8" font-weight="normal" text-anchor="middle" textLength="107" lengthAdjust="spacingAndGlyphs" stroke="#000" stroke-width="0.35">Annexin-v +/PI+(%)</text>
<line x1="416.3" y1="664.6" x2="416.3" y2="660.3" stroke="#000" stroke-width="2.4"/>
<rect x="413.25" y="665.35" width="6.10" height="8.85" fill="#00fc00" stroke="#000" stroke-width="1.5"/>
<line x1="426.35" y1="664.6" x2="426.35" y2="660.3" stroke="#000" stroke-width="2.4"/>
<rect x="423.35" y="665.35" width="6.00" height="8.85" fill="#8c7c38" stroke="#000" stroke-width="1.5"/>
<line x1="436.1" y1="664.6" x2="436.1" y2="660.3" stroke="#000" stroke-width="2.4"/>
<rect x="433.15" y="665.35" width="5.90" height="8.85" fill="#ff0000" stroke="#000" stroke-width="1.5"/>
<line x1="445.95" y1="667.9" x2="445.95" y2="666.8" stroke="#000" stroke-width="2.4"/>
<rect x="442.95" y="668.65" width="6.00" height="5.55" fill="#0000c0" stroke="#000" stroke-width="1.5"/>
<line x1="462.25" y1="645.8" x2="462.25" y2="631.5" stroke="#000" stroke-width="2.4"/>
<rect x="459.25" y="646.55" width="6.00" height="27.65" fill="#00fc00" stroke="#000" stroke-width="1.5"/>
<line x1="472.04999999999995" y1="662.4" x2="472.04999999999995" y2="656.6" stroke="#000" stroke-width="2.4"/>
<rect x="469.15" y="663.15" width="5.80" height="11.05" fill="#8c7c38" stroke="#000" stroke-width="1.5"/>
<line x1="482.1" y1="644.8" x2="482.1" y2="631.5" stroke="#000" stroke-width="2.4"/>
<rect x="479.25" y="645.55" width="5.70" height="28.65" fill="#ff0000" stroke="#000" stroke-width="1.5"/>
<line x1="492.1" y1="662.9" x2="492.1" y2="659.8" stroke="#000" stroke-width="2.4"/>
<rect x="489.25" y="663.65" width="5.70" height="10.55" fill="#0000c0" stroke="#000" stroke-width="1.5"/>
<line x1="508.3" y1="637.9" x2="508.3" y2="618.1" stroke="#000" stroke-width="2.4"/>
<rect x="505.15" y="638.65" width="6.30" height="35.55" fill="#00fc00" stroke="#000" stroke-width="1.5"/>
<line x1="518.3" y1="660.7" x2="518.3" y2="654.3" stroke="#000" stroke-width="2.4"/>
<rect x="515.35" y="661.45" width="5.90" height="12.75" fill="#8c7c38" stroke="#000" stroke-width="1.5"/>
<line x1="527.95" y1="627.7" x2="527.95" y2="621.9" stroke="#000" stroke-width="2.4"/>
<rect x="525.05" y="628.45" width="5.80" height="45.75" fill="#ff0000" stroke="#000" stroke-width="1.5"/>
<rect x="534.65" y="656.25" width="5.80" height="17.95" fill="#0000c0" stroke="#000" stroke-width="1.5"/>
<line x1="554.5" y1="635.7" x2="554.5" y2="617.1" stroke="#000" stroke-width="2.4"/>
<rect x="551.55" y="636.45" width="5.90" height="37.75" fill="#00fc00" stroke="#000" stroke-width="1.5"/>
<line x1="564.0999999999999" y1="657.5" x2="564.0999999999999" y2="649.5" stroke="#000" stroke-width="2.4"/>
<rect x="561.15" y="658.25" width="5.90" height="15.95" fill="#8c7c38" stroke="#000" stroke-width="1.5"/>
<line x1="573.7" y1="606.9" x2="573.7" y2="598.2" stroke="#000" stroke-width="2.4"/>
<rect x="570.75" y="607.65" width="5.90" height="66.55" fill="#ff0000" stroke="#000" stroke-width="1.5"/>
<line x1="584.0" y1="648.5" x2="584.0" y2="647.5" stroke="#000" stroke-width="2.4"/>
<rect x="581.05" y="649.25" width="5.90" height="24.95" fill="#0000c0" stroke="#000" stroke-width="1.5"/>
<line x1="600.45" y1="628.6" x2="600.45" y2="608.5" stroke="#000" stroke-width="2.4"/>
<rect x="597.35" y="629.35" width="6.20" height="44.85" fill="#00fc00" stroke="#000" stroke-width="1.5"/>
<line x1="610.05" y1="657.1" x2="610.05" y2="649.1" stroke="#000" stroke-width="2.4"/>
<rect x="606.95" y="657.85" width="6.20" height="16.35" fill="#8c7c38" stroke="#000" stroke-width="1.5"/>
<line x1="619.65" y1="566.8" x2="619.65" y2="553.1" stroke="#000" stroke-width="2.4"/>
<rect x="616.55" y="567.55" width="6.20" height="106.65" fill="#ff0000" stroke="#000" stroke-width="1.5"/>
<line x1="629.8" y1="637.3" x2="629.8" y2="628.3" stroke="#000" stroke-width="2.4"/>
<rect x="626.85" y="638.05" width="5.90" height="36.15" fill="#0000c0" stroke="#000" stroke-width="1.5"/>
<line x1="646.4000000000001" y1="632.5" x2="646.4000000000001" y2="611.7" stroke="#000" stroke-width="2.4"/>
<rect x="643.45" y="633.25" width="5.90" height="40.95" fill="#00fc00" stroke="#000" stroke-width="1.5"/>
<line x1="656.0" y1="654.3" x2="656.0" y2="643.7" stroke="#000" stroke-width="2.4"/>
<rect x="653.05" y="655.05" width="5.90" height="19.15" fill="#8c7c38" stroke="#000" stroke-width="1.5"/>
<line x1="665.65" y1="531" x2="665.65" y2="521.4" stroke="#000" stroke-width="2.4"/>
<rect x="662.75" y="531.75" width="5.80" height="142.45" fill="#ff0000" stroke="#000" stroke-width="1.5"/>
<line x1="675.75" y1="623.8" x2="675.75" y2="609.1" stroke="#000" stroke-width="2.4"/>
<rect x="672.65" y="624.55" width="6.20" height="49.65" fill="#0000c0" stroke="#000" stroke-width="1.5"/>
<text x="360.8" y="695.2" font-size="11.5" font-weight="bold" text-anchor="start" textLength="54.5" lengthAdjust="spacingAndGlyphs">ABT(nM)</text>
<text x="362" y="708.7" font-size="11.5" font-weight="bold" text-anchor="start" textLength="50.9" lengthAdjust="spacingAndGlyphs">TPL(nM)</text>
<text x="430.3" y="695.1" font-size="11.5" font-weight="bold" text-anchor="middle" textLength="12.9" lengthAdjust="spacingAndGlyphs">10</text>
<text x="478" y="695.1" font-size="11.5" font-weight="bold" text-anchor="middle" textLength="13.3" lengthAdjust="spacingAndGlyphs">20</text>
<text x="525.3" y="695.1" font-size="11.5" font-weight="bold" text-anchor="middle" textLength="14.3" lengthAdjust="spacingAndGlyphs">40</text>
<text x="569.2" y="695.1" font-size="11.5" font-weight="bold" text-anchor="middle" textLength="13.5" lengthAdjust="spacingAndGlyphs">80</text>
<text x="616.8" y="695.1" font-size="11.5" font-weight="bold" text-anchor="middle" textLength="20.4" lengthAdjust="spacingAndGlyphs">160</text>
<text x="660.5" y="695.1" font-size="11.5" font-weight="bold" text-anchor="middle" textLength="21" lengthAdjust="spacingAndGlyphs">320</text>
<text x="431.3" y="708.7" font-size="11.5" font-weight="bold" text-anchor="middle" textLength="24" lengthAdjust="spacingAndGlyphs">1.25</text>
<text x="478.2" y="708.7" font-size="11.5" font-weight="bold" text-anchor="middle" textLength="17.5" lengthAdjust="spacingAndGlyphs">2.5</text>
<text x="524" y="708.7" font-size="11.5" font-weight="bold" text-anchor="middle">5</text>
<text x="567.2" y="708.7" font-size="11.5" font-weight="bold" text-anchor="middle" textLength="13.3" lengthAdjust="spacingAndGlyphs">10</text>
<text x="618.6" y="708.7" font-size="11.5" font-weight="bold" text-anchor="middle" textLength="13.8" lengthAdjust="spacingAndGlyphs">20</text>
<text x="662.4" y="708.7" font-size="11.5" font-weight="bold" text-anchor="middle" textLength="14.6" lengthAdjust="spacingAndGlyphs">40</text>
<rect x="416.95" y="524.55" width="20.099999999999977" height="4.300000000000023" fill="#00fc00" stroke="#000" stroke-width="1.3"/>
<text x="447.6" y="530.0" font-size="9.6" font-weight="bold" text-anchor="start" textLength="46.2" lengthAdjust="spacingAndGlyphs">ABT-199</text>
<rect x="416.95" y="535.35" width="20.099999999999977" height="4.299999999999909" fill="#8c7c38" stroke="#000" stroke-width="1.3"/>
<text x="447.6" y="540.8" font-size="9.6" font-weight="bold" text-anchor="start" textLength="22.6" lengthAdjust="spacingAndGlyphs">TPL</text>
<rect x="416.95" y="544.65" width="20.099999999999977" height="4.2" fill="#ff0000" stroke="#000" stroke-width="1.3"/>
<text x="447.6" y="550.0" font-size="9.6" font-weight="bold" text-anchor="start" textLength="33.6" lengthAdjust="spacingAndGlyphs">Comb</text>
<rect x="416.95" y="555.4499999999999" width="20.099999999999977" height="4.7" fill="#0000c0" stroke="#000" stroke-width="1.3"/>
<text x="447.6" y="561.3" font-size="9.6" font-weight="bold" text-anchor="start" textLength="77.1" lengthAdjust="spacingAndGlyphs">Comb+Z-VAD</text>
</svg>
</body></html>
